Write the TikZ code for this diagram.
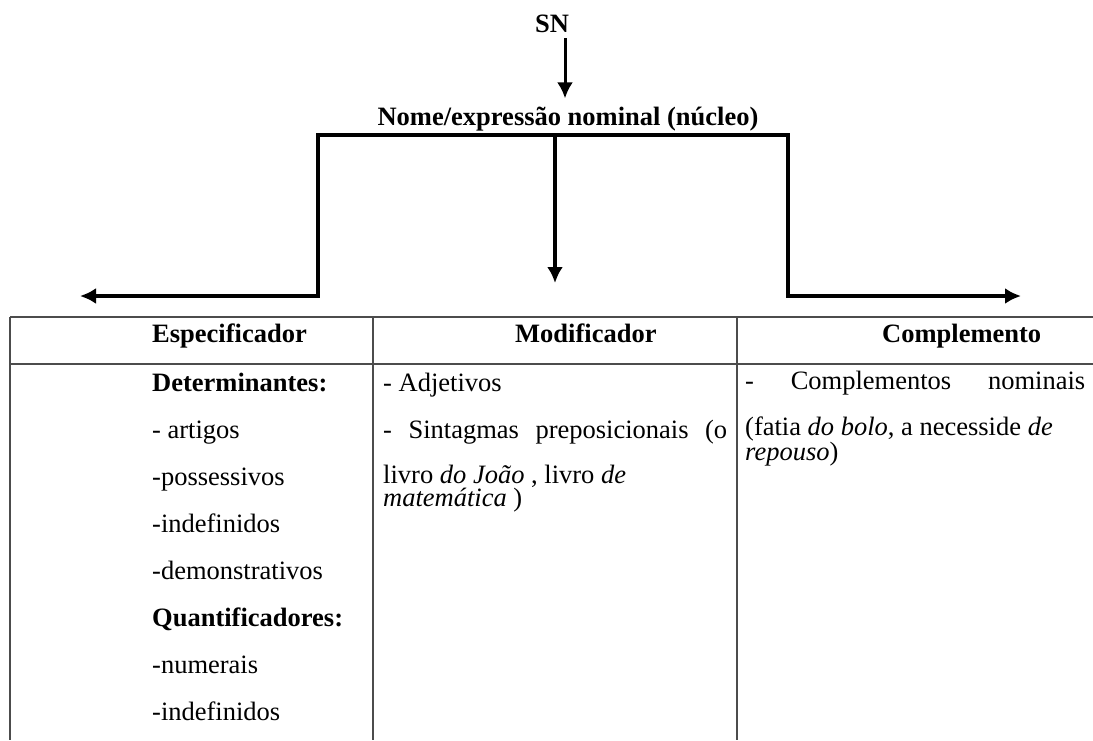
\documentclass[tikz,border=0pt]{standalone}
\usepackage{fontspec}
\setmainfont{Liberation Serif}
\usetikzlibrary{positioning}
\usetikzlibrary{arrows.meta}

\begin{document}
\begin{tikzpicture}[x=1pt, y=-1pt, >={Latex[length=16pt, width=16pt]},
    cell/.style={inner sep=0pt, anchor=base west, font=\fontsize{26.5}{30}\selectfont},
    cellbold/.style={cell, font=\fontsize{26.5}{30}\selectfont\bfseries},
    celltight/.style={inner sep=0pt, anchor=north west, align=left, font=\fontsize{26.5}{22.5}\selectfont},
    connector/.style={line width=3.5pt},
    tabline/.style={line width=1.8pt, draw=black!70}]
    \useasboundingbox (0,0) rectangle (1093,740);

    % Nucleus
    \node[cellbold, anchor=base] (sn) at (552,32) {SN};
    \node[cellbold, anchor=base] (nucleo) at (568,125) {Nome/expressão nominal (núcleo)};
    \draw[->, line width=3pt] ([xshift=13pt, yshift=-6pt]sn.south) -- ([xshift=-3pt, yshift=8pt]nucleo.north);

    % Branches
    \coordinate (mid) at (555,135);
    \coordinate (corL) at (318,135);
    \coordinate (corR) at (788,135);
    \coordinate (espec) at (80,296);
    \coordinate (modif) at (555,283);
    \coordinate (compl) at (1021,296);
    \draw[->, connector] (mid) -- (corL) |- (espec);
    \draw[->, connector] (mid) -- (corR) |- (compl);
    \draw[->, connector] (mid) -- (modif);

    % Table
    \draw[tabline] (10,317) -- (1093,317);
    \draw[tabline] (10,364) -- (1093,364);
    \foreach \x in {10,373,737}
        \draw[tabline] (\x,317) -- (\x,740);

    % Headers
    \node[cellbold] (hesp) at (152,342) {Especificador};
    \node[cellbold] (hmod) at (515,342) {Modificador};
    \node[cellbold] (hcom) at (882,342) {Complemento};

    % Especificador
    \node[cellbold] (det) at (152,391) {Determinantes:};
    \node[cell] (art) at ([yshift=-47pt]det.base west) {- artigos};
    \node[cell] (poss) at ([yshift=-47pt]art.base west) {-possessivos};
    \node[cell] (indef) at ([yshift=-47pt]poss.base west) {-indefinidos};
    \node[cell] (demo) at ([yshift=-47pt]indef.base west) {-demonstrativos};
    \node[cellbold] (quant) at ([yshift=-47pt]demo.base west) {Quantificadores:};
    \node[cell] (num) at ([yshift=-47pt]quant.base west) {-numerais};
    \node[cell] (indefq) at ([yshift=-47pt]num.base west) {-indefinidos};

    % Modificador
    \node[cell] (adj) at (383,391) {- Adjetivos};
    \node[cell] (sint) at ([yshift=-47pt]adj.base west) {\makebox[344pt][s]{- Sintagmas preposicionais (o}};
    \node[celltight] (livro) at (383,465) {livro \textit{do João} , livro \textit{de}\\\textit{matemática} )};

    % Complemento
    \node[cell] (cnom) at (745,389) {\makebox[340pt][s]{- Complementos nominais}};
    \node[celltight] (fatia) at (745,417) {(fatia \textit{do bolo}, a necesside \textit{de}\\\textit{repouso})};
\end{tikzpicture}
\end{document}
